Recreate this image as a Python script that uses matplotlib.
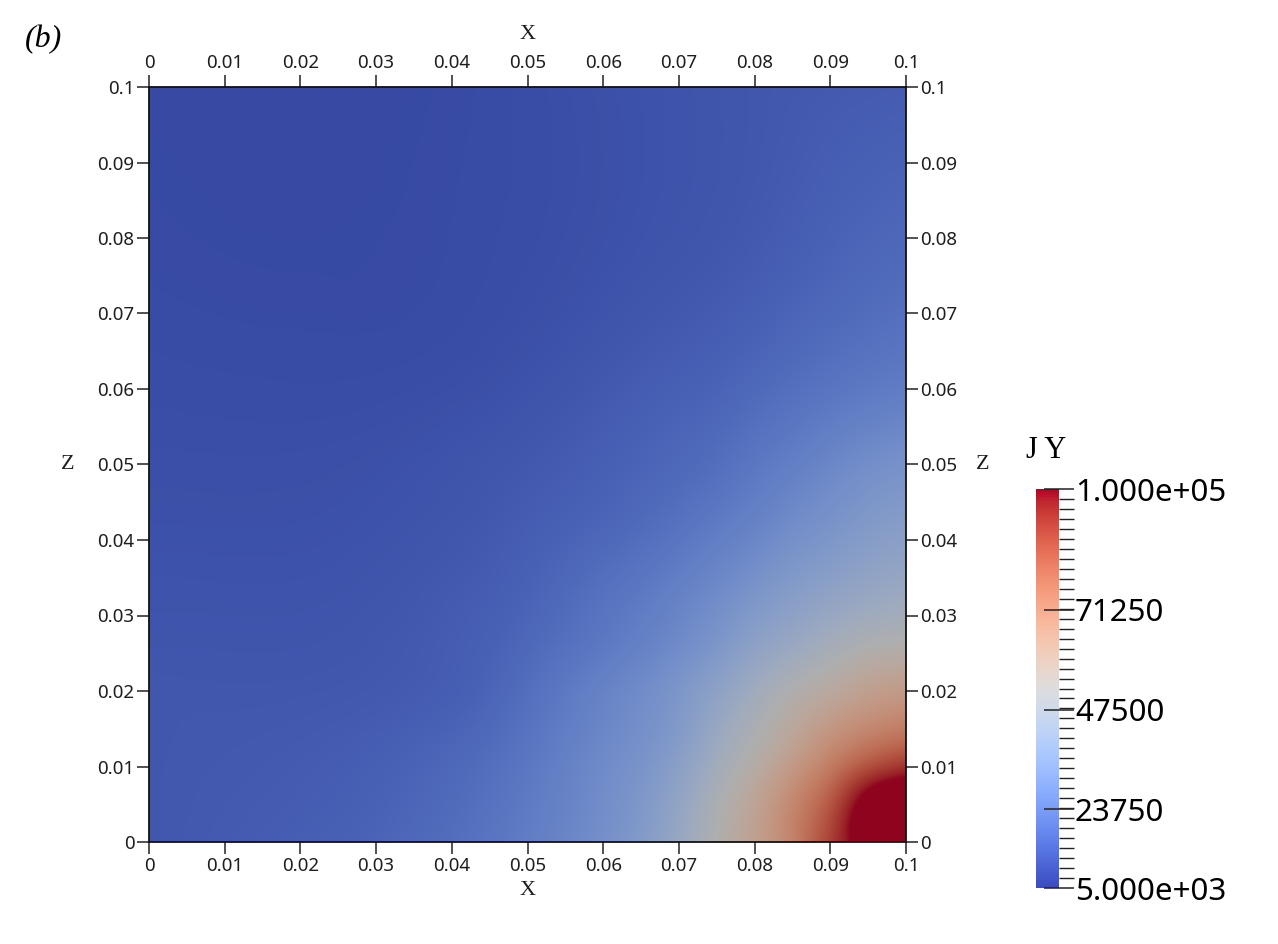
import matplotlib
matplotlib.use("Agg")
import matplotlib.pyplot as plt
import matplotlib.tri as mtri
from matplotlib.colors import LinearSegmentedColormap, Normalize
import numpy as np

# grid (x across, z up); values of J Y in thousands
x_pts = [0, 0.02, 0.04, 0.05, 0.06, 0.07, 0.075, 0.08, 0.085, 0.09, 0.095, 0.1]
z_pts = [0, 0.005, 0.01, 0.015, 0.02, 0.025, 0.03, 0.04, 0.05, 0.06, 0.08, 0.1]
jy_k = [
    [12.6, 14.5, 19.3, 24.0, 30.7, 43.0, 52.5, 62.0, 73.4, 90.5, 107.6, 128.5],
    [12.6, 14.0, 18.3, 23.1, 29.7, 41.1, 50.6, 60.1, 71.5, 85.5, 104.8, 114.3],
    [12.6, 13.6, 17.4, 22.1, 28.8, 38.3, 46.8, 55.4, 64.9, 75.3, 86.7, 93.4],
    [12.6, 13.1, 15.9, 20.7, 27.3, 35.4, 43.0, 50.6, 58.2, 65.8, 71.5, 75.3],
    [12.6, 12.6, 14.5, 19.3, 25.9, 33.5, 39.2, 45.9, 52.5, 57.3, 62.0, 64.9],
    [12.1, 12.1, 14.0, 17.8, 23.1, 29.7, 34.5, 40.2, 44.9, 49.7, 53.5, 55.4],
    [11.7, 11.7, 13.6, 16.4, 21.2, 26.9, 30.7, 35.4, 39.2, 43.0, 45.9, 47.8],
    [10.9, 10.9, 12.4, 14.4, 17.4, 21.6, 24.4, 27.3, 30.9, 33.7, 36.5, 38.3],
    [10.3, 10.3, 11.5, 12.8, 14.8, 17.5, 19.3, 22.0, 24.6, 27.3, 29.9, 31.6],
    [9.8, 9.6, 10.2, 11.3, 13.0, 15.0, 16.0, 17.8, 19.6, 21.3, 22.8, 24.0],
    [9.0, 8.8, 9.2, 9.8, 10.7, 11.8, 12.4, 13.2, 14.3, 15.5, 16.6, 17.4],
    [8.8, 8.6, 9.0, 9.7, 10.6, 11.5, 12.0, 12.5, 12.9, 13.3, 13.6, 13.9],
]

vmin, vmax = 5000, 100000
cbar_ticks = [5000, 23750, 47500, 71250, 100000]
cbar_labels = ["5.000e+03", "23750", "47500", "71250", "1.000e+05"]
axis_ticks = np.round(np.arange(0, 0.101, 0.01), 2)

base = plt.get_cmap("coolwarm")
# the surface in the render is lit, so it comes out darker than the bar
shade = 0.79
lit = base(np.linspace(0, 1, 256))
lit[:, :3] *= shade
field_cmap = LinearSegmentedColormap.from_list("coolwarm_lit", lit, N=1024)
field_cmap.set_over(lit[-1])
field_cmap.set_under(lit[0])

fig = plt.figure(figsize=(12.78, 9.44), dpi=100)
ax = fig.add_axes([149 / 1278, 1 - 842 / 944, 757 / 1278, 755 / 944])

X, Z = np.meshgrid(x_pts, z_pts)
vals = np.array(jy_k) * 1000
tri = mtri.Triangulation(X.ravel(), Z.ravel())
interp = mtri.CubicTriInterpolator(tri, vals.ravel(), kind="min_E")
xi = np.linspace(0, 0.1, 500)
XI, ZI = np.meshgrid(xi, xi)
field = interp(XI, ZI)
ax.imshow(field, origin="lower", extent=(0, 0.1, 0, 0.1), cmap=field_cmap,
          norm=Normalize(vmin, vmax), interpolation="bilinear", aspect="auto")
ax.set_xlim(0, 0.1)
ax.set_ylim(0, 0.1)

tick_col = "#1e1e1e"
ax.set_xticks(axis_ticks)
ax.set_yticks(axis_ticks)
ax.set_xticklabels([f"{t:g}" for t in axis_ticks])
ax.set_yticklabels([f"{t:g}" for t in axis_ticks])
ax.tick_params(direction="out", length=8.5, width=1.1, color="#222222",
               labelsize=13.5, labelcolor=tick_col, pad=2,
               top=True, bottom=True, left=True, right=True,
               labeltop=True, labelbottom=True, labelleft=True, labelright=True)
for lab in ax.get_xticklabels() + ax.get_yticklabels():
    lab.set_family("Noto Sans")
for sp in ax.spines.values():
    sp.set_linewidth(1.3)
    sp.set_color("#111111")

serif = "Liberation Serif"
ax.text(0.5, 1.069, "X", transform=ax.transAxes, ha="center", va="center",
        fontsize=16, family=serif, color=tick_col)
ax.text(0.5, -0.0636, "X", transform=ax.transAxes, ha="center", va="center",
        fontsize=16, family=serif, color=tick_col)
ax.text(-0.107, 0.5, "Z", transform=ax.transAxes, ha="center", va="center",
        fontsize=16, family=serif, color=tick_col)
ax.text(1.1017, 0.5, "Z", transform=ax.transAxes, ha="center", va="center",
        fontsize=16, family=serif, color=tick_col)

fig.text(44 / 1278, 1 - 40 / 944, "(b)", ha="center", va="center",
         fontsize=23, family=serif, style="italic")

# colour legend
cax = fig.add_axes([1036 / 1278, 1 - 888 / 944, 23 / 1278, 399 / 944])
sm = plt.cm.ScalarMappable(norm=Normalize(vmin, vmax), cmap=base)
cb = fig.colorbar(sm, cax=cax)
cb.outline.set_visible(False)
cb.set_ticks(cbar_ticks)
cb.set_ticklabels(cbar_labels)
cb.ax.yaxis.set_ticks(np.arange(vmin, vmax + 1, 2375), minor=True)
cb.ax.tick_params(which="major", direction="inout", length=21, width=1.1,
                  color="#222222", labelsize=22.5, pad=1)
cb.ax.tick_params(which="minor", direction="out", length=11, width=1.0,
                  color="#222222")
for lab in cb.ax.get_yticklabels():
    lab.set_family("Noto Sans")
fig.text(1046 / 1278, 1 - 451 / 944, "J Y", ha="center", va="center",
         fontsize=22, family=serif)

fig.savefig("out.png", dpi=100)
